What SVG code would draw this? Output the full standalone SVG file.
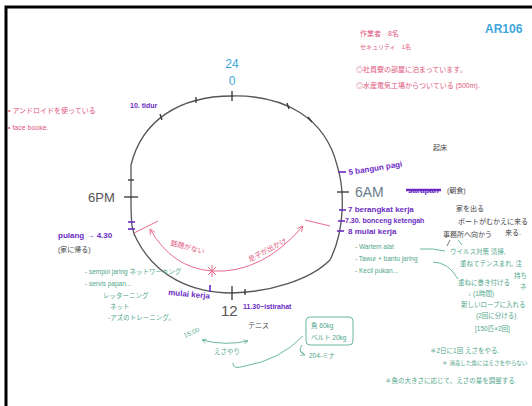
<svg xmlns="http://www.w3.org/2000/svg" width="532" height="406" viewBox="0 0 532 406">
<defs>
<style>
.t{font-family:"Liberation Sans","Noto Sans CJK JP",sans-serif}
.pu{fill:#6b2bc4;font-weight:bold;font-size:8px}
.pk{fill:#e0587e;font-size:7px}
.gr{fill:#4fa68a;font-size:6.5px}
.dk{fill:#444;font-size:7px}
.ring{fill:none;stroke:#555;stroke-width:1.3}
.tk{stroke:#333;stroke-width:1.3}
.tp{stroke:#6b2bc4;stroke-width:1.6}
.pl{fill:none;stroke:#e96a8c;stroke-width:1}
.gl{fill:none;stroke:#5aae92;stroke-width:0.9}
</style>
<marker id="ap" viewBox="0 0 10 10" refX="9" refY="5" markerWidth="7" markerHeight="7" orient="auto-start-reverse"><path d="M1,1 L9,5 L1,9" fill="none" stroke="#e96a8c" stroke-width="1.2"/></marker>
<marker id="ag" viewBox="0 0 10 10" refX="9" refY="5" markerWidth="6" markerHeight="6" orient="auto-start-reverse"><path d="M1,1 L9,5 L1,9" fill="none" stroke="#5aae92" stroke-width="1.2"/></marker>
</defs>
<rect width="532" height="406" fill="#fff"/>
<path d="M6,406 V7 H532" fill="none" stroke="#000" stroke-width="3"/>

<g id="clock">
<path class="ring" d="M232,96 C285,95 325,118 337,165 C345,190 345,230 330,260 C310,280 270,292 232,293 C190,293 155,275 137,240 C132,232 131,225 131,200 L131,165 C142,120 180,96 232,96 Z"/>
<line class="tk" x1="232" y1="91" x2="232" y2="101"/>
<line class="tk" x1="337" y1="192" x2="349" y2="192"/>
<line class="tk" x1="124" y1="197" x2="138" y2="197"/>
<line class="tk" x1="232" y1="286" x2="232" y2="300"/>
<line class="tk" x1="160" y1="114" x2="162" y2="120"/>
<line class="tk" x1="196" y1="97" x2="196" y2="103"/>
<line class="tk" x1="287" y1="103" x2="289" y2="109"/>
<line class="tk" x1="308" y1="117" x2="312" y2="122"/>
<line class="tk" x1="128" y1="180" x2="134" y2="180"/>
<line class="tk" x1="245" y1="289" x2="245" y2="295"/>
<line class="tp" x1="338" y1="172" x2="346" y2="172"/>
<line class="tp" x1="339" y1="210" x2="346" y2="210"/>
<line class="tp" x1="338" y1="221" x2="345" y2="221"/>
<line class="tp" x1="337" y1="231" x2="344" y2="231"/>
<line class="tp" x1="128" y1="222" x2="135" y2="222"/>
<line class="tp" x1="128" y1="229" x2="135" y2="229"/>
<line class="tp" x1="210" y1="285" x2="210" y2="292"/>
<text class="t" x="232" y="68" text-anchor="middle" font-size="12" fill="#3fa6dc">24</text>
<text class="t" x="232" y="85" text-anchor="middle" font-size="12" fill="#3fa6dc">0</text>
<text class="t" x="355" y="197" font-size="14" fill="#6a7d8c">6AM</text>
<text class="t" x="88" y="202" font-size="13" fill="#555">6PM</text>
<text class="t" x="221" y="316" font-size="15" fill="#555">12</text>
</g>

<g id="connectors">
<path class="pl" d="M150,229 Q172,268 212,271 Q262,274 303,226" marker-start="url(#ap)" marker-end="url(#ap)"/>
<line class="pl" x1="134" y1="233" x2="158" y2="221"/>
<line class="pl" x1="305" y1="220" x2="330" y2="226"/>
<path d="M208,267 L216,275 M216,267 L208,275 M212,265 L212,277" stroke="#e96a8c" stroke-width="1"/>
<path class="gl" d="M202,340 Q225,346 248,341" marker-start="url(#ag)" marker-end="url(#ag)"/>
<path class="gl" d="M233,363 Q232,370 245,366 Q280,360 303,336"/>
<path class="gl" d="M302,345 Q297,352 305,355" marker-end="url(#ag)"/>
<rect x="306" y="317" width="47" height="28" rx="4" class="gl"/>
<path class="gl" d="M420,249 Q432,248 445,251"/>
<path class="gl" d="M433,262 Q448,262 458,279"/>
<path class="gl" d="M462,245 L458,240"/>
</g>

<g id="labels-purple">
<text class="t pu" x="130" y="108" style="font-size:7px">10. tidur</text>
<text class="t pu" x="349" y="175" transform="rotate(-9 349 175)">5 bangun pagi</text>
<text class="t" x="433" y="150" font-size="7" fill="#444">起床</text>
<text class="t pu" x="408" y="193">sarapan</text>
<line x1="406" y1="190" x2="441" y2="190" stroke="#6b2bc4" stroke-width="2.5"/>
<text class="t dk" x="447" y="193">(朝食)</text>
<text class="t pu" x="348" y="212">7 berangkat kerja</text>
<text class="t dk" x="456" y="211">家を出る</text>
<text class="t pu" x="345" y="223" style="font-size:7px">7.30. bonceng ketengah</text>
<text class="t dk" x="458" y="224">ボートがむかえに来る</text>
<text class="t dk" x="505" y="235">来る.</text>
<text class="t pu" x="348" y="234">8 mulai kerja</text>
<text class="t dk" x="443" y="237">事務所へ向かう</text>
<line x1="450" y1="240" x2="447" y2="246" stroke="#444" stroke-width="0.7"/>
<text class="t pu" x="58" y="238">pulang → 4.30</text>
<text class="t dk" x="58" y="252">(家に帰る)</text>
<text class="t pu" x="168" y="295" transform="rotate(5 168 295)">mulai kerja</text>
<text class="t pu" x="243" y="309" style="font-size:7px">11.30~istirahat</text>
<text class="t dk" x="248" y="328">テニス</text>
</g>

<g id="labels-pink">
<text class="t" x="485" y="33" font-size="12" font-weight="bold" fill="#3fa6dc">AR106</text>
<text class="t pk" x="360" y="36">作業者　8名</text>
<text class="t pk" x="360" y="49" style="font-size:6px">セキュリティ　1名</text>
<text class="t pk" x="356" y="72">◎社員寮の部屋に泊まっています。</text>
<text class="t pk" x="356" y="88">◎水産電気工場からついている (500m).</text>
<text class="t pk" x="8" y="113">• アンドロイドを使っている</text>
<text class="t pk" x="8" y="130">• face booke.</text>
<text class="t pk" x="170" y="245" transform="rotate(15 170 245)">話題がない</text>
<text class="t pk" x="250" y="262" transform="rotate(-28 250 262)">息子が出かけ</text>
</g>

<g id="labels-green">
<text class="t gr" x="85" y="274">- sempoi jaring ネットワーキング</text>
<text class="t gr" x="85" y="286">- servis papan...</text>
<text class="t gr" x="103" y="298">レッターニング</text>
<text class="t gr" x="110" y="309">ネット</text>
<text class="t gr" x="108" y="320">-アズのトレーニング。</text>
<text class="t gr" x="185" y="338" transform="rotate(-25 185 338)">15:00</text>
<text class="t gr" x="214" y="354">えさやり</text>
<text class="t gr" x="311" y="328">魚 60kg</text>
<text class="t gr" x="311" y="340">ベルト 20kg</text>
<text class="t gr" x="309" y="358">204-ミナ</text>
<text class="t gr" x="355" y="249">- Wartem alat</text>
<text class="t gr" x="355" y="261">- Tawur + bantu jaring</text>
<text class="t gr" x="355" y="273">- Kecil pukan...</text>
<text class="t gr" x="450" y="254">ウイルス対策 清掃,</text>
<text class="t gr" x="460" y="266">重ねてテンスまれ, 注</text>
<text class="t gr" x="514" y="278">持ち</text>
<text class="t gr" x="520" y="289">ネ</text>
<text class="t gr" x="458" y="285">重ねに巻き付ける</text>
<text class="t gr" x="468" y="296">↓ (1時間)</text>
<text class="t gr" x="461" y="307">新しいロープに入れる</text>
<text class="t gr" x="476" y="318">(2回に分ける)</text>
<text class="t gr" x="475" y="331">[150匹×2回]</text>
<text class="t gr" x="430" y="353">＊2日に1回 えさをやる.</text>
<text class="t gr" x="442" y="365" style="font-size:5.6px">＊ 消毒した魚にはえさをやらない</text>
<text class="t gr" x="385" y="383">＊魚の大きさに応じて、えさの量を調整する.</text>
</g>
</svg>
